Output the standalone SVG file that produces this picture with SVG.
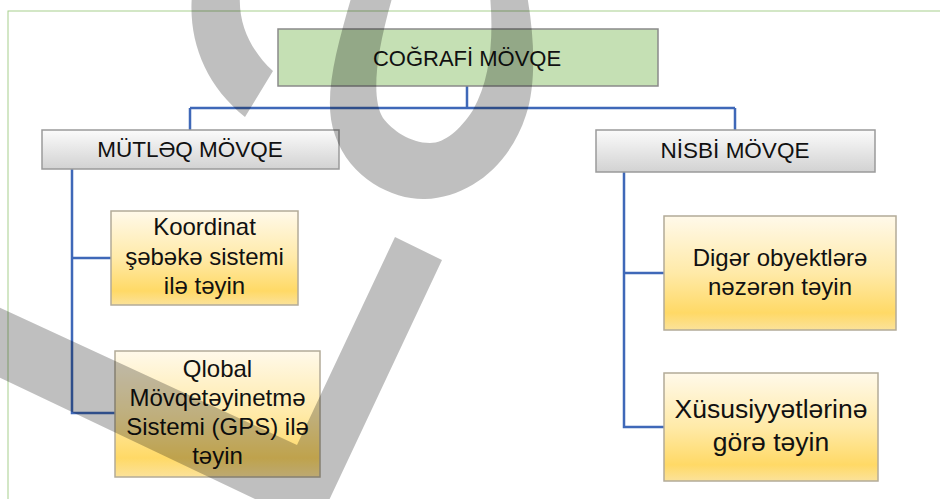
<svg xmlns="http://www.w3.org/2000/svg" width="940" height="499" viewBox="0 0 940 499">
<defs>
<linearGradient id="gGray" x1="0" y1="0" x2="0" y2="1">
<stop offset="0" stop-color="#fbfbfb"/>
<stop offset="1" stop-color="#d2d2d2"/>
</linearGradient>
<linearGradient id="gYel" x1="0" y1="0" x2="0" y2="1">
<stop offset="0" stop-color="#fff9ea"/>
<stop offset="0.5" stop-color="#ffeaa8"/>
<stop offset="0.85" stop-color="#ffd966"/>
<stop offset="1" stop-color="#fbe29a"/>
</linearGradient>
</defs>
<style>
.t{font-family:"Liberation Sans",Arial,sans-serif;fill:#111;text-anchor:middle}
.top{fill:#c5e0b4;stroke:#8a8a8a;stroke-width:1.5}
.gr{fill:url(#gGray);stroke:#9a9a9a;stroke-width:1.5}
.yl{fill:url(#gYel);stroke:#b3ab98;stroke-width:1.5}
.c{fill:none;stroke:#3f68b8;stroke-width:2.5}
.wm{fill:#000;fill-opacity:.25}
</style>
<rect x="8" y="11" width="940" height="500" fill="none" stroke="#a8d08d" stroke-width="1"/>
<g id="connectors">
<path class="c" d="M467,86 V108 M190,108 H735 M190,108 V130 M735,108 V130"/>
<path class="c" d="M72,169 V413 H115 M72,258 H111"/>
<path class="c" d="M624,172 V427 H664 M624,273 H664"/>
</g>
<g id="cografi">
<rect class="top" x="278" y="29" width="380" height="57"/>
<text class="t" x="467" y="66" font-size="22">COĞRAFİ MÖVQE</text>
</g>
<g id="mutleq">
<rect class="gr" x="42" y="130" width="297" height="39"/>
<text class="t" x="190" y="157" font-size="22.5">MÜTLƏQ MÖVQE</text>
</g>
<g id="nisbi">
<rect class="gr" x="596" y="130" width="279" height="42"/>
<text class="t" x="735" y="158" font-size="22.5">NİSBİ MÖVQE</text>
</g>
<g id="koordinat">
<rect class="yl" x="111" y="211" width="187" height="94"/>
<text class="t" x="204.5" font-size="24"><tspan x="204.5" y="235">Koordinat</tspan><tspan x="204.5" y="265">şəbəkə sistemi</tspan><tspan x="204.5" y="294">ilə təyin</tspan></text>
</g>
<g id="qlobal">
<rect class="yl" x="115" y="351" width="205" height="126"/>
<text class="t" x="217.5" font-size="24"><tspan x="217.5" y="377">Qlobal</tspan><tspan x="217.5" y="406">Mövqetəyinetmə</tspan><tspan x="217.5" y="435">Sistemi (GPS) ilə</tspan><tspan x="217.5" y="464">təyin</tspan></text>
</g>
<g id="diger">
<rect class="yl" x="664" y="216" width="232" height="114"/>
<text class="t" x="780" font-size="24"><tspan x="780" y="266">Digər obyektlərə</tspan><tspan x="780" y="295">nəzərən təyin</tspan></text>
</g>
<g id="xususiyyet">
<rect class="yl" x="664" y="373" width="214" height="108"/>
<text class="t" x="771" font-size="26.5"><tspan x="771" y="418">Xüsusiyyətlərinə</tspan><tspan x="771" y="451">görə təyin</tspan></text>
</g>
<g id="watermark">
<path class="wm" d="M192,-5 C188,40 205,85 245,117 L273,71 C252,52 238,25 240,-5 Z"/>
<path class="wm" d="M352,-5 C336,50 322,100 335,135 C350,180 395,200 425,199 C470,197 510,165 526,115 C536,85 535,40 527,-5 L490,-5 C494,40 490,80 473,110 C460,130 445,143 430,143 C410,143 392,130 383,118 C372,100 374,60 393,-5 Z"/>
<polygon class="wm" points="-10,303 297,445 395,237 442,260 316,528 -10,373"/>
</g>
</svg>
